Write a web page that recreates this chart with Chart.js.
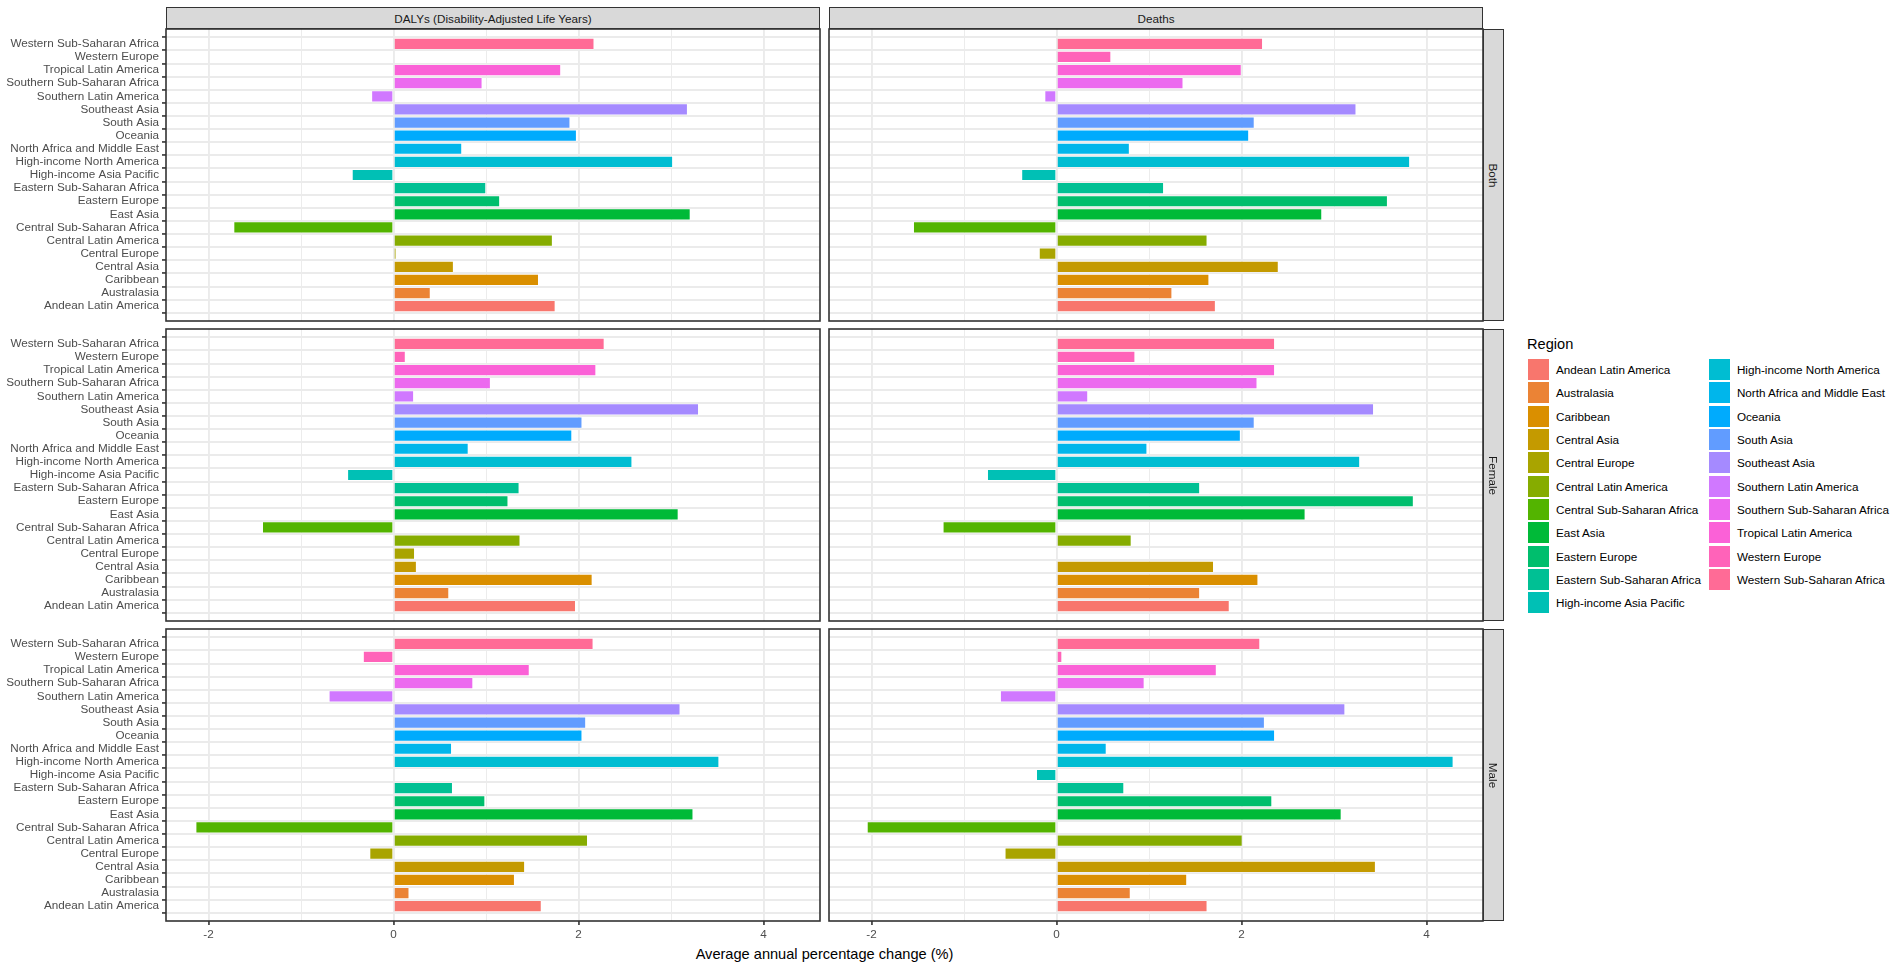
<!DOCTYPE html>
<html>
<head>
<meta charset="utf-8">
<script src="https://cdn.jsdelivr.net/npm/chart.js@4.4.0/dist/chart.umd.min.js"></script>
<style>
  body { margin: 0; background: #fff; font-family: "Liberation Sans", Arial, sans-serif; }
  #page { position: relative; width: 1901px; height: 963px; overflow: hidden; background: #fff; }
  canvas { position: absolute; }
  .strip { position: absolute; background: #d9d9d9; border: 1.6px solid #333; box-sizing: border-box;
           color: #1a1a1a; font-size: 11.7px; display: flex; align-items: center; justify-content: center; }
  .strip.side span { transform: rotate(90deg); white-space: nowrap; }
  #xtitle { position: absolute; left: 166px; width: 1317px; top: 945px; text-align: center;
            font-size: 14.6px; line-height: 18px; color: #000; }
  #legend { position: absolute; left: 1527px; top: 336px; }
  #legend .title { font-size: 14.6px; line-height: 17px; height: 22px; color: #000; }
  #legend .items { display: grid; grid-template-rows: repeat(11, 23.3px); grid-auto-flow: column; column-gap: 7px; }
  #legend .item { display: flex; align-items: center; font-size: 11.7px; color: #000; white-space: nowrap; }
  #legend .key { width: 21px; height: 21px; margin: 0 7px 0 1px; }
</style>
</head>
<body>
<div id="page">
  <div id="xtitle">Average annual percentage change (%)</div>
  <div id="legend"><div class="title">Region</div><div class="items"></div></div>
</div>
<script>
// regions, bottom to top in each panel
const regions = [
  'Andean Latin America', 'Australasia', 'Caribbean', 'Central Asia', 'Central Europe',
  'Central Latin America', 'Central Sub-Saharan Africa', 'East Asia', 'Eastern Europe',
  'Eastern Sub-Saharan Africa', 'High-income Asia Pacific', 'High-income North America',
  'North Africa and Middle East', 'Oceania', 'South Asia', 'Southeast Asia',
  'Southern Latin America', 'Southern Sub-Saharan Africa', 'Tropical Latin America',
  'Western Europe', 'Western Sub-Saharan Africa'
];
const measures = ['DALYs (Disability-Adjusted Life Years)', 'Deaths'];
const sexes = ['Both', 'Female', 'Male'];
const xTicks = [-2, -1, 0, 1, 2, 3, 4];
const xMin = -2.46, xMax = 4.61;

const dalysBoth    = [1.75, 0.40, 1.57, 0.65, 0.03, 1.72, -1.73, 3.21, 1.15, 1.00, -0.45, 3.02, 0.74, 1.98, 1.91, 3.18, -0.24, 0.96, 1.81, 0.01, 2.17];
const deathsBoth   = [1.72, 1.25, 1.65, 2.40, -0.19, 1.63, -1.55, 2.87, 3.58, 1.16, -0.38, 3.82, 0.79, 2.08, 2.14, 3.24, -0.13, 1.37, 2.00, 0.59, 2.23];
const dalysFemale  = [1.97, 0.60, 2.15, 0.25, 0.23, 1.37, -1.42, 3.08, 1.24, 1.36, -0.50, 2.58, 0.81, 1.93, 2.04, 3.30, 0.22, 1.05, 2.19, 0.13, 2.28];
const deathsFemale = [1.87, 1.55, 2.18, 1.70, 0.01, 0.81, -1.23, 2.69, 3.86, 1.55, -0.75, 3.28, 0.98, 1.99, 2.14, 3.43, 0.34, 2.17, 2.36, 0.85, 2.36];
const dalysMale    = [1.60, 0.17, 1.31, 1.42, -0.26, 2.10, -2.14, 3.24, 0.99, 0.64, 0.00, 3.52, 0.63, 2.04, 2.08, 3.10, -0.70, 0.86, 1.47, -0.33, 2.16];
const deathsMale   = [1.63, 0.80, 1.41, 3.45, -0.56, 2.01, -2.05, 3.08, 2.33, 0.73, -0.22, 4.29, 0.54, 2.36, 2.25, 3.12, -0.61, 0.95, 1.73, 0.06, 2.20];

const panels = [[dalysBoth, deathsBoth], [dalysFemale, deathsFemale], [dalysMale, deathsMale]];

// ggplot-style hue palette (hcl, c=100, l=65)
function hcl(h, c, l) {
  const Xn = 95.047, Yn = 100, Zn = 108.883;
  const hr = h * Math.PI / 180;
  const U = c * Math.cos(hr), V = c * Math.sin(hr);
  const Y = Yn * (l > 7.999592 ? Math.pow((l + 16) / 116, 3) : l / 903.3);
  const den = Xn + 15 * Yn + 3 * Zn;
  const u = U / (13 * l) + 4 * Xn / den, v = V / (13 * l) + 9 * Yn / den;
  const X = 9 * Y * u / (4 * v);
  const Z = -X / 3 - 5 * Y + 3 * Y / v;
  const lin = [
    3.240479 * X - 1.537150 * Y - 0.498535 * Z,
    -0.969256 * X + 1.875992 * Y + 0.041556 * Z,
    0.055648 * X - 0.204043 * Y + 1.057311 * Z
  ].map(q => q / 100);
  return '#' + lin.map(q => {
    const g = q <= 0.0031308 ? 12.92 * q : 1.055 * Math.pow(q, 1 / 2.4) - 0.055;
    return Math.round(255 * Math.min(1, Math.max(0, g))).toString(16).padStart(2, '0');
  }).join('');
}
const colours = regions.map((_, i) => hcl(15 + i * 360 / regions.length, 100, 65));

const font = { family: '"Liberation Sans", Arial, sans-serif', size: 11.7 };
const colLeft = [166, 829], rowTop = [29, 329, 629];
const panelW = 654, panelH = 292, pad = 3, axisH = 32;
const page = document.getElementById('page');

const frame = {
  id: 'frame',
  afterDatasetsDraw(chart) {
    const a = chart.chartArea, c = chart.ctx;
    c.save();
    c.strokeStyle = '#333';
    c.lineWidth = 1.6;
    c.strokeRect(a.left, a.top, a.right - a.left, a.bottom - a.top);
    c.restore();
  }
};

function makePanel(row, col, values) {
  const isLeft = col === 0, isBottom = row === 2;
  const cv = document.createElement('canvas');
  const left = isLeft ? 0 : colLeft[col] - pad;
  const w = isLeft ? colLeft[0] + panelW + pad : panelW + 2 * pad;
  const h = pad + panelH + (isBottom ? axisH : pad);
  cv.width = w; cv.height = h;
  cv.style.left = left + 'px';
  cv.style.top = (rowTop[row] - pad) + 'px';
  page.appendChild(cv);

  new Chart(cv, {
    type: 'bar',
    data: {
      datasets: [{
        data: values.map((v, i) => ({ x: v, y: i })),
        backgroundColor: colours,
        borderColor: 'rgba(255,255,255,0.5)',
        borderWidth: 0.8,
        categoryPercentage: 0.9,
        barPercentage: 1
      }]
    },
    options: {
      indexAxis: 'y',
      responsive: false,
      animation: false,
      devicePixelRatio: 1,
      layout: { padding: { top: pad, right: pad, bottom: isBottom ? 0 : pad, left: isLeft ? 0 : pad } },
      plugins: { legend: { display: false }, tooltip: { enabled: false } },
      scales: {
        x: {
          type: 'linear', min: xMin, max: xMax,
          afterBuildTicks: s => { s.ticks = xTicks.map(v => ({ value: v })); },
          afterFit: s => { s.height = isBottom ? axisH : 0; s.paddingLeft = 0; s.paddingRight = 0; },
          border: { display: false },
          grid: {
            color: '#ebebeb',
            lineWidth: c => (c.tick && c.tick.value % 2 === 0) ? 1.9 : 0.95,
            drawTicks: isBottom, tickLength: 4, tickWidth: 1.6,
            tickColor: c => (c.tick && c.tick.value % 2 === 0) ? '#333' : 'rgba(0,0,0,0)'
          },
          ticks: {
            display: isBottom, autoSkip: false, maxRotation: 0, padding: 3,
            color: '#4d4d4d', font: font,
            callback: v => v % 2 === 0 ? String(v) : ''
          }
        },
        y: {
          type: 'linear', min: -0.6, max: regions.length - 0.4,
          afterBuildTicks: s => { s.ticks = regions.map((_, i) => ({ value: i })); },
          afterFit: s => { s.width = isLeft ? colLeft[0] : 0; s.paddingTop = 0; s.paddingBottom = 0; },
          border: { display: false },
          grid: { color: '#ebebeb', lineWidth: 1.9, drawTicks: isLeft, tickLength: 4, tickWidth: 1.6, tickColor: '#333' },
          ticks: {
            display: isLeft, autoSkip: false, padding: 3,
            color: '#4d4d4d', font: font,
            callback: v => regions[v]
          }
        }
      }
    },
    plugins: [frame]
  });
}

panels.forEach((pair, r) => pair.forEach((vals, c) => makePanel(r, c, vals)));

// strips
measures.forEach((m, c) => {
  const d = document.createElement('div');
  d.className = 'strip';
  d.style.cssText = `left:${colLeft[c]}px;top:7px;width:${panelW}px;height:22px;`;
  d.innerHTML = `<span>${m}</span>`;
  page.appendChild(d);
});
sexes.forEach((s, r) => {
  const d = document.createElement('div');
  d.className = 'strip side';
  d.style.cssText = `left:${colLeft[1] + panelW}px;top:${rowTop[r]}px;width:21px;height:${panelH}px;`;
  d.innerHTML = `<span>${s}</span>`;
  page.appendChild(d);
});

// legend
const items = document.querySelector('#legend .items');
regions.forEach((name, i) => {
  const it = document.createElement('div');
  it.className = 'item';
  it.innerHTML = `<div class="key" style="background:${colours[i]}"></div><span>${name}</span>`;
  items.appendChild(it);
});
</script>
</body>
</html>
